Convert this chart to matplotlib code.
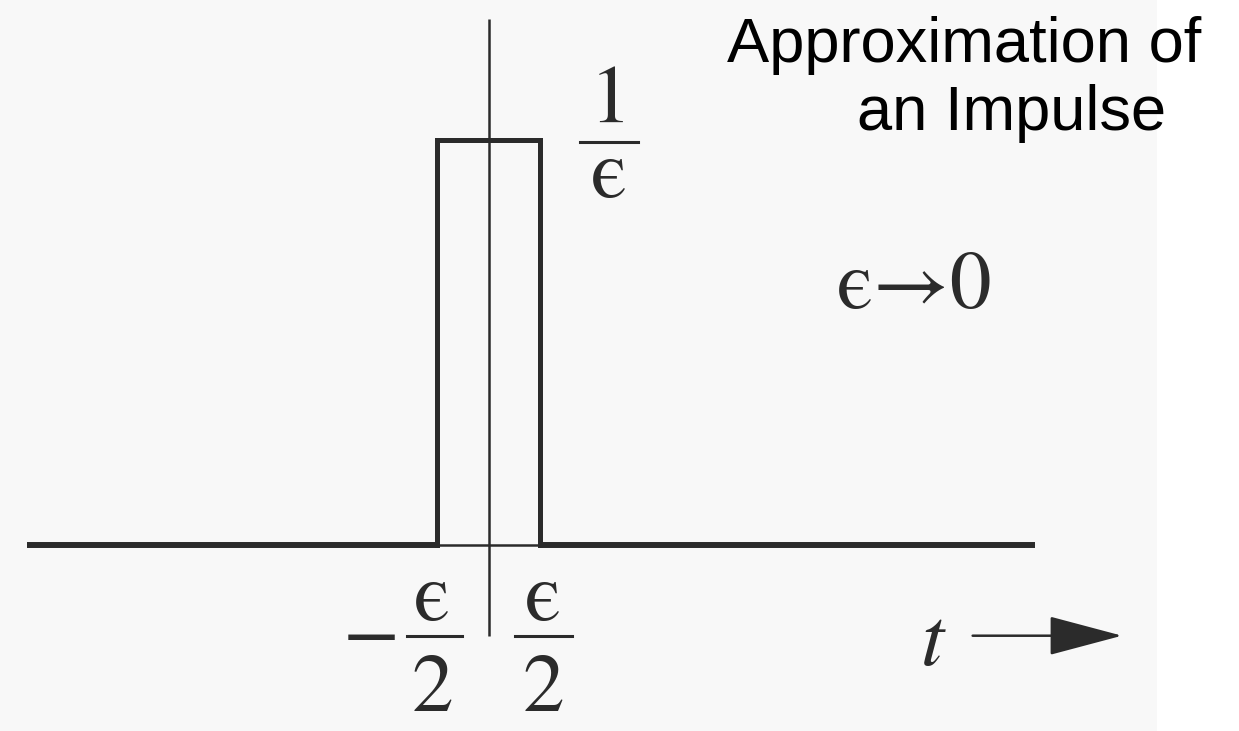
import matplotlib
matplotlib.use('Agg')
import matplotlib.pyplot as plt
from matplotlib.patches import Rectangle

# pulse of width eps and height 1/eps
eps = 1.0
pulse_t = [-eps / 2, -eps / 2, eps / 2, eps / 2]
pulse_v = [0, 1 / eps, 1 / eps, 0]

# horizontal axis (baseline) and vertical axis extents
base_left = [-4.48, -eps / 2]
base_mid = [-eps / 2, eps / 2]
base_right = [eps / 2, 5.31]
vaxis_y = [-0.225, 1.30]

title_lines = ['Approximation of', 'an Impulse']

LINE = '#2b2b2b'
MATH = 'STIXGeneral'
FS = 60

fig = plt.figure(figsize=(12.39, 7.31), dpi=100)
ax = fig.add_axes([0, 0, 1, 1])
ax.set_xlim(-4.743, 7.286)
ax.set_ylim(-0.4593, 1.3457)
ax.axis('off')

# scanned page background (light grey), white strip on the right
ax.add_patch(Rectangle((-4.743, -0.4593), 1157 / 103, 1.805,
                       facecolor='#f8f8f8', edgecolor='none', zorder=0))

# axes
ax.plot(base_left, [0, 0], color=LINE, lw=4.3, solid_capstyle='butt')
ax.plot(base_right, [0, 0], color=LINE, lw=4.3, solid_capstyle='butt')
ax.plot(base_mid, [0, 0], color=LINE, lw=1.8, solid_capstyle='butt')
ax.plot([0, 0], vaxis_y, color=LINE, lw=1.8, solid_capstyle='butt')

# the pulse
ax.plot(pulse_t, pulse_v, color=LINE, lw=3.6, solid_joinstyle='miter')

# 1/eps label
ax.text(1.18, 1.044, '1', fontfamily=MATH, fontsize=FS, color=LINE,
        ha='center', va='baseline')
ax.plot([0.888, 1.451], [0.995, 0.995], color=LINE, lw=2.2)
ax.text(1.17, 0.859, '\u03f5', fontfamily=MATH, fontsize=FS, color=LINE,
        ha='center', va='baseline')

# eps -> 0
ax.text(3.38, 0.585, '\u03f5\u21920', fontfamily=MATH, fontsize=FS,
        color=LINE, ha='left', va='baseline')

# -eps/2 and eps/2 tick labels (raised a little so the 2s stay inside)
for xc, x0, x1 in [(-0.55, -0.79, -0.26), (0.53, 0.26, 0.81)]:
    ax.text(xc, -0.185, '\u03f5', fontfamily=MATH, fontsize=FS, color=LINE,
            ha='center', va='baseline')
    ax.plot([x0, x1], [-0.225, -0.225], color=LINE, lw=2.2)
    ax.text(xc, -0.411, '2', fontfamily=MATH, fontsize=FS, color=LINE,
            ha='center', va='baseline')
ax.text(-1.14, -0.278, '\u2212', fontfamily=MATH, fontsize=FS, color=LINE,
        ha='center', va='baseline')

# t axis arrow
ax.text(4.31, -0.296, 't', fontfamily=MATH, fontstyle='italic', fontsize=FS,
        color=LINE, ha='center', va='baseline')
ax.annotate('', xy=(6.15, -0.224), xytext=(4.70, -0.224),
            arrowprops=dict(arrowstyle='-|>,head_length=4.7,head_width=1.25',
                            mutation_scale=10, lw=1.8, color=LINE,
                            shrinkA=0, shrinkB=0))

# title
ax.text(2.32, 1.193, title_lines[0], fontfamily='Liberation Sans',
        fontsize=45.5, color='black', ha='left', va='baseline')
ax.text(3.58, 1.025, title_lines[1], fontfamily='Liberation Sans',
        fontsize=45.5, color='black', ha='left', va='baseline')

fig.savefig('out.png', dpi=100)
